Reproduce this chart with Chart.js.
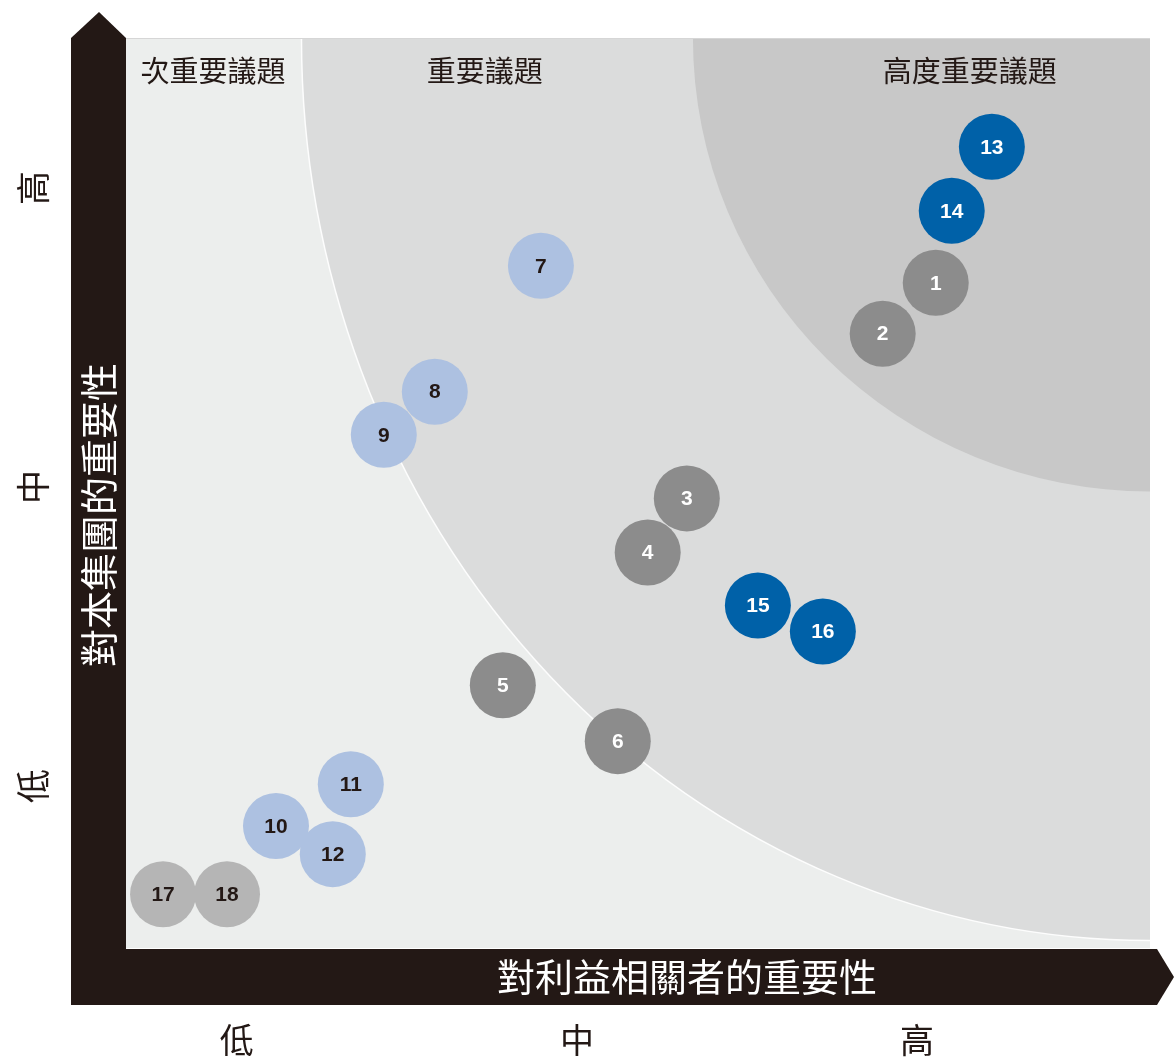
<!DOCTYPE html>
<html>
<head>
<meta charset="utf-8">
<script src="https://cdn.jsdelivr.net/npm/chart.js@4.4.1/dist/chart.umd.min.js"></script>
<style>
  html, body { margin: 0; padding: 0; background: #fff; }
  canvas { display: block; }
</style>
</head>
<body>
<canvas id="matrixChart" width="1174" height="1057"></canvas>
<script>
// 議題編號, x = 對利益相關者的重要性, y = 對本集團的重要性 (1 低, 2 中, 3 高)
const issueNo = [1, 2, 3, 4, 5, 6, 7, 8, 9, 10, 11, 12, 13, 14, 15, 16, 17, 18];
const stakeholderScore = [3.055, 2.899, 2.323, 2.208, 1.782, 2.120, 1.894, 1.582, 1.432,
                          1.115, 1.335, 1.282, 3.220, 3.102, 2.532, 2.723, 0.783, 0.971];
const groupScore = [2.683, 2.513, 1.962, 1.781, 1.337, 1.150, 2.740, 2.319, 2.175,
                    0.866, 1.006, 0.772, 3.138, 2.924, 1.604, 1.517, 0.638, 0.638];
const issueGroup = ["gray", "gray", "gray", "gray", "gray", "gray",
                    "light", "light", "light", "light", "light", "light",
                    "blue", "blue", "blue", "blue", "pale", "pale"];

const levelValues = [1, 2, 3];
const levelLabels = ["低", "中", "高"];
const zoneLabels = ["次重要議題", "重要議題", "高度重要議題"];
// 區域邊界 (與左下方的交點)
const midZoneEdge = { x: 1.19, y: 0.483 };
const highZoneEdge = { x: 2.341, y: 1.985 };

const groupStyle = {
    gray: { fill: "#8c8c8c", text: "#ffffff" },
    light: { fill: "#adc1e1", text: "#231815" },
    blue: { fill: "#0061a8", text: "#ffffff" },
    pale: { fill: "#b5b5b5", text: "#231815" },
};

const datasets = Object.keys(groupStyle).map((g) => {
    const idx = issueNo.map((n, i) => i).filter((i) => issueGroup[i] === g);
    return {
        label: g,
        data: idx.map((i) => ({ x: stakeholderScore[i], y: groupScore[i], no: issueNo[i] })),
        backgroundColor: groupStyle[g].fill,
        textColor: groupStyle[g].text,
        pointRadius: 33,
        pointHoverRadius: 33,
        borderWidth: 0,
        pointBorderWidth: 0,
    };
});

const dark = "#231815";
const cjk = '"Noto Sans CJK TC", "Noto Sans CJK SC", sans-serif';

const matrixPlugin = {
    id: "matrix",
    beforeDatasetsDraw(chart) {
        const { ctx, chartArea: a, scales: { x, y } } = chart;
        ctx.save();
        ctx.fillStyle = "#eceeed";
        ctx.fillRect(a.left, a.top, a.right - a.left, a.bottom - a.top);
        ctx.beginPath();
        ctx.rect(a.left, a.top, a.right - a.left, a.bottom - a.top);
        ctx.clip();

        const cx = a.right, cy = a.top;
        const zone = (edge, color, stroke) => {
            const rx = cx - x.getPixelForValue(edge.x);
            const ry = y.getPixelForValue(edge.y) - cy;
            ctx.beginPath();
            ctx.moveTo(cx, cy);
            ctx.ellipse(cx, cy, rx, ry, 0, Math.PI / 2, Math.PI);
            ctx.closePath();
            ctx.fillStyle = color;
            ctx.fill();
            if (stroke) {
                ctx.beginPath();
                ctx.ellipse(cx, cy, rx, ry, 0, Math.PI / 2, Math.PI);
                ctx.strokeStyle = "rgba(255,255,255,0.9)";
                ctx.lineWidth = 1.5;
                ctx.stroke();
            }
        };
        zone(midZoneEdge, "#dbdcdc", true);
        zone(highZoneEdge, "#c8c8c8", false);

        ctx.strokeStyle = "#d6d6d6";
        ctx.lineWidth = 1;
        ctx.beginPath();
        ctx.moveTo(a.left, a.top + 0.5);
        ctx.lineTo(a.right, a.top + 0.5);
        ctx.stroke();

        // 區域名稱
        ctx.fillStyle = dark;
        ctx.font = "29px " + cjk;
        ctx.textAlign = "center";
        ctx.textBaseline = "middle";
        const zoneX = [0.930, 1.729, 3.155];
        zoneLabels.forEach((t, i) => {
            ctx.fillText(t, x.getPixelForValue(zoneX[i]), y.getPixelForValue(3.391));
        });
        ctx.restore();
    },
    afterDatasetsDraw(chart) {
        const { ctx } = chart;
        ctx.save();
        ctx.font = 'bold 21px "Liberation Sans", Arial, sans-serif';
        ctx.textAlign = "center";
        ctx.textBaseline = "middle";
        chart.data.datasets.forEach((ds, di) => {
            const meta = chart.getDatasetMeta(di);
            meta.data.forEach((pt, i) => {
                ctx.fillStyle = ds.textColor;
                ctx.fillText(String(ds.data[i].no), pt.x, pt.y + 1);
            });
        });
        ctx.restore();
    },
    afterDraw(chart) {
        const { ctx, chartArea: a, scales: { x, y } } = chart;
        ctx.save();
        ctx.fillStyle = dark;
        // 縱軸箭頭
        ctx.beginPath();
        ctx.moveTo(a.left - 55, a.bottom + 57);
        ctx.lineTo(a.left - 55, a.top);
        ctx.lineTo(a.left - 27, a.top - 26);
        ctx.lineTo(a.left, a.top);
        ctx.lineTo(a.left, a.bottom + 57);
        ctx.closePath();
        ctx.fill();
        // 橫軸箭頭
        ctx.beginPath();
        ctx.moveTo(a.left - 55, a.bottom + 1);
        ctx.lineTo(a.right + 7, a.bottom + 1);
        ctx.lineTo(a.right + 24, a.bottom + 29);
        ctx.lineTo(a.right + 7, a.bottom + 57);
        ctx.lineTo(a.left - 55, a.bottom + 57);
        ctx.closePath();
        ctx.fill();

        // 軸標題
        ctx.fillStyle = "#ffffff";
        ctx.font = "38px " + cjk;
        ctx.textAlign = "center";
        ctx.textBaseline = "middle";
        ctx.fillText("對利益相關者的重要性", a.left + 561, a.bottom + 29);
        ctx.save();
        ctx.translate(a.left - 27, a.top + 477);
        ctx.rotate(-Math.PI / 2);
        ctx.fillText("對本集團的重要性", 0, 0);
        ctx.restore();

        // 刻度標籤
        ctx.fillStyle = dark;
        ctx.font = "34px " + cjk;
        levelValues.forEach((v, i) => {
            ctx.fillText(levelLabels[i], x.getPixelForValue(v), a.bottom + 92);
            ctx.save();
            ctx.translate(33, y.getPixelForValue(v));
            ctx.rotate(-Math.PI / 2);
            ctx.fillText(levelLabels[i], 0, 0);
            ctx.restore();
        });
        ctx.restore();
    },
};

new Chart(document.getElementById("matrixChart").getContext("2d"), {
    type: "scatter",
    data: { datasets },
    options: {
        responsive: false,
        animation: false,
        events: [],
        layout: { autoPadding: false, padding: { left: 126, top: 38, right: 24, bottom: 109 } },
        scales: {
            x: { type: "linear", min: 0.674, max: 3.685, display: false },
            y: { type: "linear", min: 0.458, max: 3.502, display: false },
        },
        plugins: {
            legend: { display: false },
            tooltip: { enabled: false },
        },
    },
    plugins: [matrixPlugin],
});
</script>
</body>
</html>
